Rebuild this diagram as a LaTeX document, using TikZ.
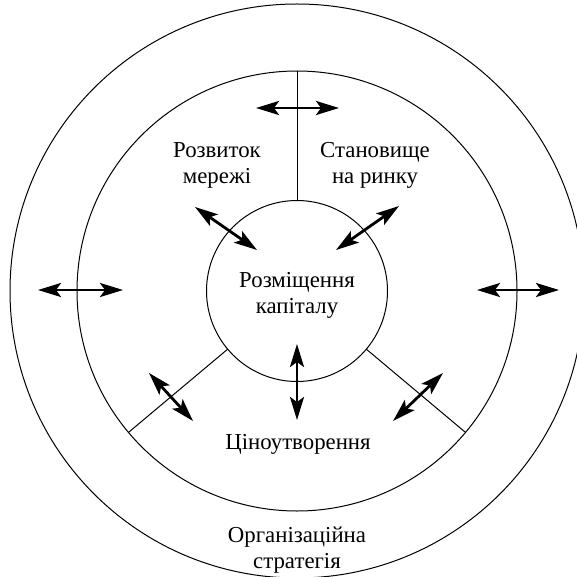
\documentclass[tikz,border=0pt]{standalone}
\usepackage{fontspec}
\setmainfont{Liberation Serif}
\usetikzlibrary{arrows.meta}
\begin{document}
\begin{tikzpicture}[x=0.5pt,y=-0.5pt,
  ring/.style={circle,draw,line width=0.5pt,inner sep=0pt,outer sep=0pt},
  lbl/.style={align=center,font=\fontsize{11.4}{13}\selectfont,inner sep=0pt},
  dbl/.style={line width=1.4pt,{Stealth[length=11.5pt,width=7pt,inset=2.5pt]}-{Stealth[length=11.5pt,width=7pt,inset=2.5pt]}},
  divider/.style={line width=0.5pt}]
\useasboundingbox (0,0) rectangle (577,577);
\clip (0,0) rectangle (577,577);
% rings
\node[ring,minimum size=287pt] (outer) at (297,291) {};
\node[ring,minimum size=220pt] (mid) at (297,291) {};
\node[ring,minimum size=90.5pt] (inner) at (297,291) {};
% dividers
\draw[divider] (inner.90) -- (mid.90);
\draw[divider] (inner.220) -- (mid.220);
\draw[divider] (inner.320) -- (mid.320);
% labels
\node[lbl] (cap) at (297,295) {Розміщення\\капіталу};
\node[lbl] (net) at (217,165) {Розвиток\\мережі};
\node[lbl] (mkt) at (375,165) {Становище\\на ринку};
\node[lbl] (price) at (298,444) {Ціноутворення};
\node[lbl] (org) at (297,550) {Організаційна\\стратегія};
% arrow ends
\coordinate (t1) at (256,108); \coordinate (t2) at (339,108);
\coordinate (l1) at (38,290);  \coordinate (l2) at (123,290);
\coordinate (r1) at (477,290); \coordinate (r2) at (559,290);
\coordinate (ul1) at (195,207); \coordinate (ul2) at (257,250);
\coordinate (ur1) at (336,250); \coordinate (ur2) at (399,206);
\coordinate (b1) at (297,344); \coordinate (b2) at (297,420);
\coordinate (ll1) at (149,373); \coordinate (ll2) at (193,421);
\coordinate (lr1) at (393,421); \coordinate (lr2) at (443,373);
% arrows
\draw[dbl] (t1) -- (t2);
\draw[dbl] (l1) -- (l2);
\draw[dbl] (r1) -- (r2);
\draw[dbl] (ul1) -- (ul2);
\draw[dbl] (ur1) -- (ur2);
\draw[dbl] (b1) -- (b2);
\draw[dbl] (ll1) -- (ll2);
\draw[dbl] (lr1) -- (lr2);
\end{tikzpicture}
\end{document}
